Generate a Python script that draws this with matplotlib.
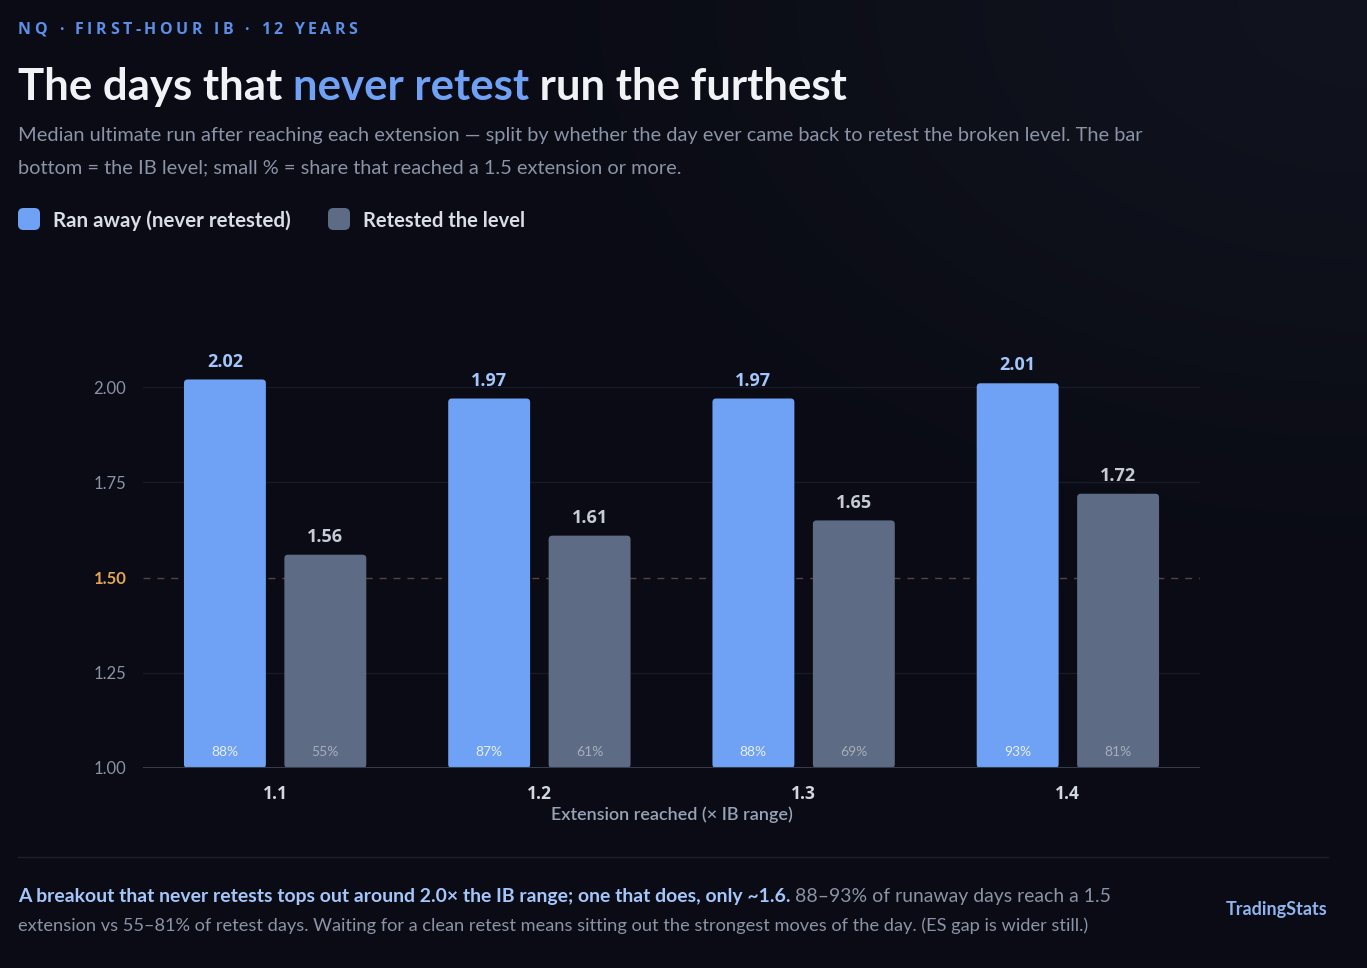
"""NQ first-hour IB: median run after extension, ran away vs retested."""

import matplotlib
matplotlib.use("Agg")
import matplotlib.pyplot as plt
import numpy as np
from matplotlib.colors import LinearSegmentedColormap
from matplotlib.patches import FancyBboxPatch

W, H = 1367, 968
BG = "#0a0b14"
BLUE = "#6fa2f5"
GREY = "#5d6b84"
SUBTLE = "#8b93a6"

extensions = ["1.1", "1.2", "1.3", "1.4"]
ran_away = [2.02, 1.97, 1.97, 2.01]
retested = [1.56, 1.61, 1.65, 1.72]
ran_away_pct = [88, 87, 88, 93]
retested_pct = [55, 61, 69, 81]
yticks = [1.00, 1.25, 1.50, 1.75, 2.00]

plt.rcParams["font.family"] = ["Open Sans", "DejaVu Sans"]
LATO = ["Lato", "DejaVu Sans"]

fig = plt.figure(figsize=(W / 100, H / 100), dpi=100, facecolor=BG)
renderer = fig.canvas.get_renderer()

# faint glow in the top-right corner
bg_ax = fig.add_axes([0, 0, 1, 1], zorder=-10)
yy, xx = np.mgrid[0:H:4, 0:W:4]
dist = np.hypot((xx - W) / 900, yy / 600)
glow = np.clip(1 - dist, 0, 1)
bg_cmap = LinearSegmentedColormap.from_list("bg", [BG, "#11141f"])
bg_ax.imshow(glow, cmap=bg_cmap, vmin=0, vmax=1, aspect="auto",
             extent=[0, W, H, 0], interpolation="bilinear")
bg_ax.axis("off")


def fx(x):
    return x / W


def fy(y):
    return 1 - y / H


def _draw(x, y, parts, size, family):
    arts = []
    for text, color, weight in parts:
        t = fig.text(fx(x), fy(y), text, color=color, fontsize=size,
                     fontweight=weight, va="baseline", ha="left",
                     fontfamily=family)
        x = t.get_window_extent(renderer=renderer).x1
        arts.append(t)
    return arts, x


def runs(x, y, parts, size, family=LATO, right=None):
    """Text pieces on one baseline; scaled so the line ends at `right`."""
    arts, x1 = _draw(x, y, parts, size, family)
    if right is not None:
        for a in arts:
            a.remove()
        size = size * (right - x) / (x1 - x)
        _draw(x, y, parts, size, family)


def tracked(x, y, text, size, color, spacing):
    for ch in text:
        t = fig.text(fx(x), fy(y), ch, color=color, fontsize=size,
                     fontweight="bold", va="baseline", ha="left")
        bb = t.get_window_extent(renderer=renderer)
        x = bb.x1 + spacing if ch != " " else x + size * 0.4 + spacing


# header
tracked(18, 34, "NQ · FIRST-HOUR IB · 12 YEARS", 11.5, "#5b8fe8", 3.5)
runs(18, 100, [("The days that ", "#f0f2f6", "bold"),
               ("never retest", BLUE, "bold"),
               (" run the furthest", "#f0f2f6", "bold")], 30, right=847)
runs(18, 141, [("Median ultimate run after reaching each extension — split by whether "
                "the day ever came back to retest the broken level. The bar",
                SUBTLE, "normal")], 15, right=1150)
runs(18, 173, [("bottom = the IB level; small % = share that reached a 1.5 extension or more.",
                SUBTLE, "normal")], 15, right=685)

# legend
for lx, label, col, end in [(18, "Ran away (never retested)", BLUE, 290),
                            (328, "Retested the level", GREY, 525)]:
    fig.patches.append(FancyBboxPatch((fx(lx), fy(230)), fx(22), 22 / H,
                                      boxstyle="round,pad=0,rounding_size=0.004",
                                      transform=fig.transFigure, facecolor=col,
                                      edgecolor="none", mutation_aspect=W / H))
    runs(lx + 35, 227, [(label, "#d9dde5", "bold")], 13, right=end)

# chart
ax = fig.add_axes([fx(143), fy(768), fx(1200) - fx(143), (768 - 349) / H])
ax.patch.set_alpha(0)
x = np.arange(len(extensions))
bw, off = 0.31, 0.19
b1 = ax.bar(x - off, np.array(ran_away) - 1, bw, bottom=1, color=BLUE)
b2 = ax.bar(x + off, np.array(retested) - 1, bw, bottom=1, color=GREY)
for bars in (b1, b2):
    for p in bars:
        fb = FancyBboxPatch((p.get_x(), p.get_y()), p.get_width(), p.get_height(),
                            boxstyle="round,pad=0,rounding_size=0.014",
                            mutation_aspect=0.7, facecolor=p.get_facecolor(),
                            edgecolor="none", zorder=3)
        p.remove()
        ax.add_patch(fb)

for i in range(len(extensions)):
    ax.text(x[i] - off, ran_away[i] + 0.047, f"{ran_away[i]:.2f}", ha="center",
            va="center", color="#a3c6fb", fontsize=13, fontweight="bold")
    ax.text(x[i] + off, retested[i] + 0.047, f"{retested[i]:.2f}", ha="center",
            va="center", color="#c6cbd5", fontsize=13, fontweight="bold")
    ax.text(x[i] - off, 1.042, f"{ran_away_pct[i]}%", ha="center", va="center",
            color="#e6eefc", fontsize=10, zorder=4, fontfamily=LATO)
    ax.text(x[i] + off, 1.042, f"{retested_pct[i]}%", ha="center", va="center",
            color="#a6aebb", fontsize=10, zorder=4, fontfamily=LATO)

for yv in (1.25, 1.75, 2.00):
    ax.axhline(yv, color="#171b27", lw=1, zorder=0)
ax.axhline(1.5, color="#5b4044", lw=1, ls=(0, (5, 5)), zorder=1)
ax.axhline(1.0, color="#363c4c", lw=1.5, zorder=4)

ax.set_xlim(-0.5, len(extensions) - 0.5)
ax.set_ylim(1.0, 2.1)
ax.set_xticks(x)
ax.set_xticklabels(extensions, color="#d3d7df", fontsize=12.5, fontweight="bold")
ax.set_yticks(yticks)
ax.set_yticklabels([f"{v:.2f}" for v in yticks], color="#8a93a6", fontsize=12,
                   fontfamily=LATO)
lab = ax.get_yticklabels()[2]
lab.set_color("#e3a553")
lab.set_fontweight("bold")
ax.tick_params(axis="y", length=0, pad=12)
ax.tick_params(axis="x", length=0, pad=12)
ax.set_xlabel("Extension reached (× IB range)", color="#97a3b6", fontsize=13,
              fontweight="semibold", fontfamily=LATO, labelpad=3)
for s in ax.spines.values():
    s.set_visible(False)

# footer
fig.add_artist(plt.Line2D([fx(18), fx(1328)], [fy(857), fy(857)],
                          color="#1d212d", lw=1))
runs(18, 902, [("A breakout that never retests tops out around 2.0× the IB range; "
                "one that does, only ~1.6. ", "#a3c6fb", "bold"),
               ("88–93% of runaway days reach a 1.5", SUBTLE, "normal")], 13.5,
     right=1110)
runs(18, 931, [("extension vs 55–81% of retest days. Waiting for a clean retest means "
                "sitting out the strongest moves of the day. (ES gap is wider still.)",
                SUBTLE, "normal")], 13.5, right=1091)
fig.text(fx(1328), fy(915), "TradingStats", color="#8fb4ee", fontsize=13,
         fontweight="bold", ha="right", va="baseline", fontfamily=LATO)

fig.savefig("out.png", dpi=100, facecolor=BG)
